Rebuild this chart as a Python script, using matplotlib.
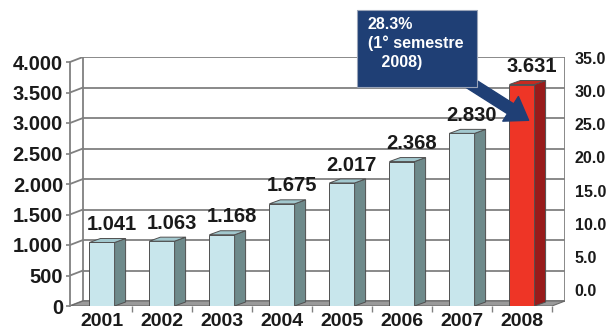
import matplotlib
matplotlib.use("Agg")
import matplotlib.pyplot as plt
from matplotlib.patches import Polygon, Rectangle
from matplotlib.ticker import FixedLocator, FuncFormatter

plt.rcParams['font.family'] = ['Liberation Sans', 'DejaVu Sans']

# Data
years = ['2001', '2002', '2003', '2004', '2005', '2006', '2007', '2008']
values = [1041, 1063, 1168, 1675, 2017, 2368, 2830, 3631]
left_ticks = [0, 500, 1000, 1500, 2000, 2500, 3000, 3500, 4000]
right_ticks = [0.0, 5.0, 10.0, 15.0, 20.0, 25.0, 30.0, 35.0]
callout = "28.3%\n(1° semestre\n   2008)"

W, H = 608, 334
fig = plt.figure(figsize=(W / 100, H / 100), dpi=100)
fig.patch.set_facecolor('white')

# Axes frame (pixels from the top-left corner)
px_left, px_right, px_bottom, px_top = 70, 565, 306, 57
ax = fig.add_axes([px_left / W, (H - px_bottom) / H,
                   (px_right - px_left) / W, (px_bottom - px_top) / H])

px_per_cat = 60.0
px_per_unit = 0.061
x0 = (px_left - 102) / px_per_cat
x1 = (px_right - 102) / px_per_cat
ymax = (px_bottom - px_top) / px_per_unit
ax.set_xlim(x0, x1)
ax.set_ylim(0, ymax)
ax.patch.set_alpha(0)

# Depth offsets of the back wall and of the bars (data units)
WDX, WDY = 13 / px_per_cat, 5 / px_per_unit
BDX, BDY = 11 / px_per_cat, 4 / px_per_unit
front_right = 7.5
grid_c = '#808080'

for s in ['top', 'right', 'bottom']:
    ax.spines[s].set_visible(False)
ax.spines['left'].set_bounds(0, left_ticks[-1])
ax.spines['left'].set_color(grid_c)
ax.spines['left'].set_linewidth(1.3)

# Back wall grid, side-wall diagonals and wall edges
for v in left_ticks:
    ax.plot([x0 + WDX, front_right + WDX], [v + WDY, v + WDY], color=grid_c, lw=1.3, zorder=1)
    ax.plot([x0, x0 + WDX], [v, v + WDY], color=grid_c, lw=1.3, zorder=1)
ax.plot([x0 + WDX, x0 + WDX], [WDY, left_ticks[-1] + WDY], color=grid_c, lw=1.3, zorder=1)
ax.plot([front_right + WDX, front_right + WDX], [WDY, left_ticks[-1] + WDY], color=grid_c, lw=1.3, zorder=1)

# Floor
ax.add_patch(Polygon([(x0, 0), (front_right, 0), (front_right + WDX, WDY), (x0 + WDX, WDY)],
                     closed=True, facecolor='#9a9a9a', edgecolor='#6a6a6a', lw=0.8, zorder=2))

# 3D bars
bw = 0.42
for i, v in enumerate(values):
    last = i == len(values) - 1
    fc, sc, tc = ('#ee3526', '#981b1b', '#c52a20') if last else ('#c8e6ec', '#6e8a8b', '#a2c8ce')
    ax.bar(i, v, width=bw, color=fc, edgecolor='#505050', lw=0.7, zorder=3)
    xr = i + bw / 2
    xl = i - bw / 2
    ax.add_patch(Polygon([(xr, 0), (xr + BDX, BDY), (xr + BDX, v + BDY), (xr, v)],
                         closed=True, facecolor=sc, edgecolor='#505050', lw=0.7, zorder=3))
    ax.add_patch(Polygon([(xl, v), (xr, v), (xr + BDX, v + BDY), (xl + BDX, v + BDY)],
                         closed=True, facecolor=tc, edgecolor='#505050', lw=0.7, zorder=3))
    ax.annotate(f"{v:,}".replace(',', '.'), xy=(i + BDX * 0.9, v), xytext=(0, 6),
                textcoords='offset points', ha='center', va='bottom',
                fontsize=14.5, fontweight='bold', color='#1a1a1a', zorder=5)

# Left axis ticks
ax.set_yticks(left_ticks)
ax.yaxis.set_major_formatter(FuncFormatter(lambda v, p: f"{int(v):,}".replace(',', '.')))
ax.tick_params(axis='y', length=3, width=1.2, color=grid_c, pad=2,
               labelsize=14.5, labelcolor='#1a1a1a')
for t in ax.get_yticklabels():
    t.set_fontweight('bold')

# Category labels and floor ticks
ax.set_xticks(range(len(years)))
ax.set_xticklabels(years, fontsize=14, fontweight='bold', color='#1a1a1a')
ax.xaxis.set_minor_locator(FixedLocator([k + 0.5 for k in range(len(years))]))
ax.tick_params(axis='x', which='major', length=0, pad=5)
ax.tick_params(axis='x', which='minor', length=4, width=1.0, color=grid_c)

# Right axis (percentage scale)
ax2 = ax.twinx()
r_per_unit = 232 / 35.0
ax2.set_ylim(-(px_bottom - 290) / r_per_unit, 35 + (58 - px_top) / r_per_unit)
ax2.set_yticks(right_ticks)
ax2.yaxis.set_major_formatter(FuncFormatter(lambda v, p: f"{v:.1f}"))
ax2.tick_params(axis='y', length=0, pad=7, labelsize=11.5, labelcolor='#1a1a1a')
for t in ax2.get_yticklabels():
    t.set_fontweight('bold')
for s in ax2.spines.values():
    s.set_visible(False)

# Callout box with arrow pointing to the 2008 bar
navy = '#1f3f75'
ax.annotate("", xy=(7.15, 3020), xycoords='data',
            xytext=(462, H - 78), textcoords='figure pixels',
            arrowprops=dict(arrowstyle='simple,head_length=1.1,head_width=1.5,tail_width=0.6',
                            color=navy, mutation_scale=14), zorder=6)
fig.patches.append(Rectangle((357 / W, (H - 87) / H), 120 / W, 77 / H,
                             transform=fig.transFigure, facecolor=navy,
                             edgecolor='#9aa4b8', lw=0.8, zorder=7))
fig.text(368 / W, (H - 17) / H, callout, ha='left', va='top', color='white',
         fontsize=11.5, fontweight='bold', linespacing=1.3, zorder=8)

fig.savefig('out.png', dpi=100, facecolor='white')
